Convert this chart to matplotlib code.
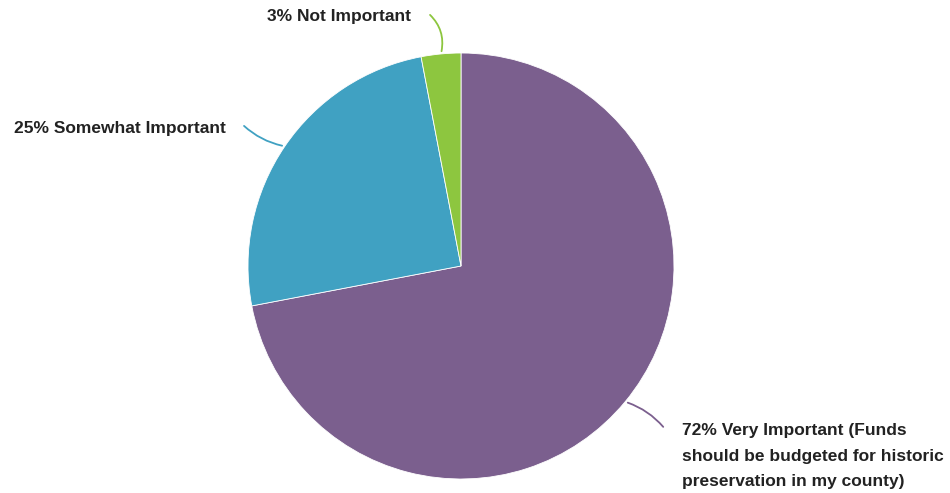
import numpy as np
import matplotlib.pyplot as plt

labels = ["Very Important (Funds\nshould be budgeted for historic\npreservation in my county)",
          "Somewhat Important", "Not Important"]
values = [72, 25, 3]
colors = ["#7b5f8e", "#40a1c2", "#8dc63f"]

W, H = 950, 493
fig = plt.figure(figsize=(W / 100, H / 100), dpi=100)
ax = fig.add_axes([0, 0, 1, 1])

cx, cy, r = 461, H - 266, 213
wedges, _ = ax.pie(values, colors=colors, startangle=90, counterclock=False,
                   center=(cx, cy), radius=r, frame=True,
                   wedgeprops=dict(edgecolor="white", linewidth=0.6))
ax.set_xlim(0, W)
ax.set_ylim(0, H)
ax.set_aspect("equal")
ax.axis("off")

# label anchor (text position, line end) in pixel coordinates from top-left
label_pos = [
    dict(xy_text=(682, 456), ha="left", end=(665, 429), rad=-0.15, ls=1.85),
    dict(xy_text=(226, 128), ha="right", end=(242, 124), rad=-0.15, ls=1.2),
    dict(xy_text=(411, 17), ha="right", end=(428, 13), rad=0.3, ls=1.2),
]

for w, v, lab, col, lp in zip(wedges, values, labels, colors, label_pos):
    mid = np.deg2rad((w.theta1 + w.theta2) / 2)
    px, py = cx + r * np.cos(mid), cy + r * np.sin(mid)
    ex, ey = lp["end"]
    ax.annotate("", xy=(ex, H - ey), xytext=(px, py),
                arrowprops=dict(arrowstyle="-", color=col, lw=1.3,
                                connectionstyle=f"arc3,rad={lp['rad']}"))
    tx, ty = lp["xy_text"]
    ax.text(tx, H - ty, f"{v}% {lab}", ha=lp["ha"], va="center",
            fontsize=12.5, fontweight="bold", color="#222222",
            family=["Liberation Sans", "DejaVu Sans"], linespacing=lp["ls"])

fig.savefig("out.png", dpi=100)
